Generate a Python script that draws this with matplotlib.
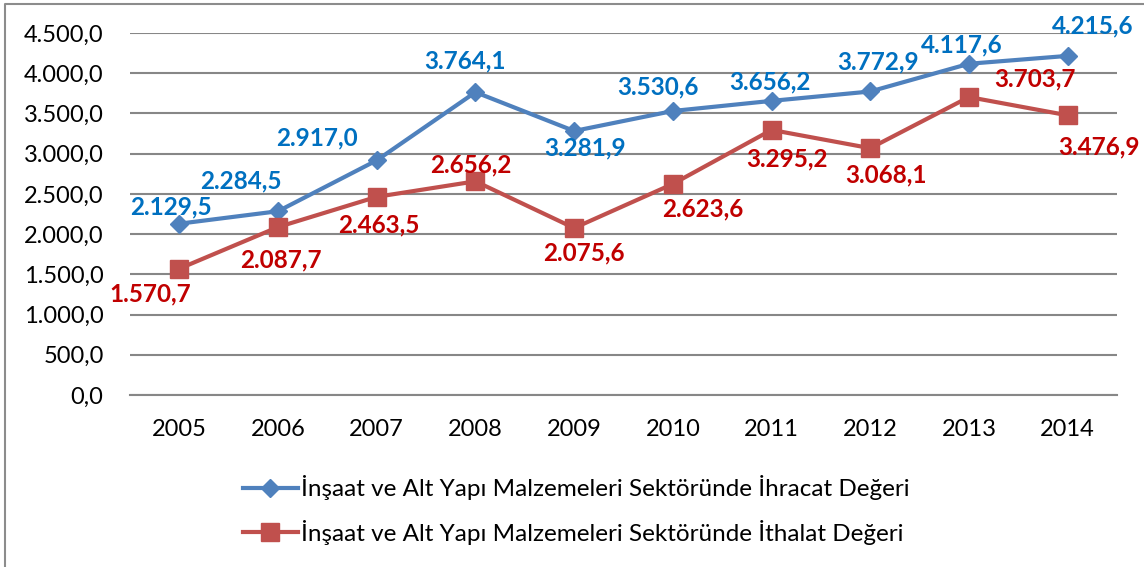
import matplotlib.pyplot as plt
from matplotlib.ticker import FuncFormatter, MultipleLocator
from matplotlib.lines import Line2D

years = ["2005", "2006", "2007", "2008", "2009", "2010", "2011", "2012", "2013", "2014"]
ihracat = [2129.5, 2284.5, 2917.0, 3764.1, 3281.9, 3530.6, 3656.2, 3772.9, 4117.6, 4215.6]
ithalat = [1570.7, 2087.7, 2463.5, 2656.2, 2075.6, 2623.6, 3295.2, 3068.1, 3703.7, 3476.9]
label_ihracat = "İnşaat ve Alt Yapı Malzemeleri Sektöründe İhracat Değeri"
label_ithalat = "İnşaat ve Alt Yapı Malzemeleri Sektöründe İthalat Değeri"

# label offsets in pixels (dx, dy)
off_ihracat = [(-8, 17), (-37, 30), (-60, 22), (-10, 31), (11, -17),
               (-15, 24), (-2, 19), (8, 30), (-7, 19), (25, 30)]
off_ithalat = [(-29, -25), (3, -33), (2, -28), (-5, 16), (10, -25),
               (30, -25), (15, -29), (16, -27), (66, 18), (31, -32)]

FONT = "Lato"
BLUE_LINE, BLUE_TXT = "#4F81BD", "#0070C0"
RED_LINE, RED_TXT = "#C0504D", "#C00000"
GRID = "#878787"


def tr(v):
    s = f"{v:,.1f}"
    return s.replace(",", "X").replace(".", ",").replace("X", ".")


plt.rcParams["font.family"] = [FONT, "DejaVu Sans"]

fig = plt.figure(figsize=(11.44, 5.67), dpi=100)
ax = fig.add_axes([130 / 1144, 1 - 395 / 567, (1117 - 130) / 1144, (395 - 33) / 567])

x = list(range(len(years)))
ax.plot(x, ihracat, color=BLUE_LINE, lw=3, marker="D", ms=9.5, zorder=3)
ax.plot(x, ithalat, color=RED_LINE, lw=3, marker="s", ms=13, zorder=3)

for xi, v, (dx, dy) in zip(x, ihracat, off_ihracat):
    ax.annotate(tr(v), (xi, v), xytext=(dx, dy), textcoords="offset pixels",
                ha="center", va="center", color=BLUE_TXT, fontsize=17.5,
                fontweight="bold", zorder=4)
for xi, v, (dx, dy) in zip(x, ithalat, off_ithalat):
    ax.annotate(tr(v), (xi, v), xytext=(dx, dy), textcoords="offset pixels",
                ha="center", va="center", color=RED_TXT, fontsize=17.5,
                fontweight="bold", zorder=4)

ax.set_xlim(-0.5, len(years) - 0.5)
ax.set_ylim(0, 4500)
ax.yaxis.set_major_locator(MultipleLocator(500))
ax.yaxis.set_major_formatter(FuncFormatter(lambda v, p: tr(v)))
ax.set_xticks(x)
ax.set_xticklabels(years)
ax.grid(axis="y", color=GRID, lw=1.5)
ax.set_axisbelow(True)
for side in ["left", "right", "top"]:
    ax.spines[side].set_visible(False)
ax.spines["bottom"].set_color(GRID)
ax.spines["bottom"].set_linewidth(1.5)
ax.tick_params(axis="both", length=0, labelsize=17, colors="black")
ax.tick_params(axis="y", pad=19)
ax.tick_params(axis="x", pad=17)

handles = [
    Line2D([], [], color=BLUE_LINE, lw=3, marker="D", ms=9.5),
    Line2D([], [], color=RED_LINE, lw=3, marker="s", ms=13),
]
fig.legend(handles, [label_ihracat, label_ithalat], loc="center",
           bbox_to_anchor=(576 / 1144, 1 - 510 / 567), frameon=False,
           fontsize=17.5, handlelength=2.3, handletextpad=0.1, labelspacing=0.8)

# chart border (cropped on the right and bottom)
fig.add_artist(Line2D([5 / 1144, 5 / 1144, 1.0], [0.0, 1 - 4 / 567, 1 - 4 / 567],
                      transform=fig.transFigure, color="#8C8C8C", lw=1.5))

fig.savefig("out.png", dpi=100)
